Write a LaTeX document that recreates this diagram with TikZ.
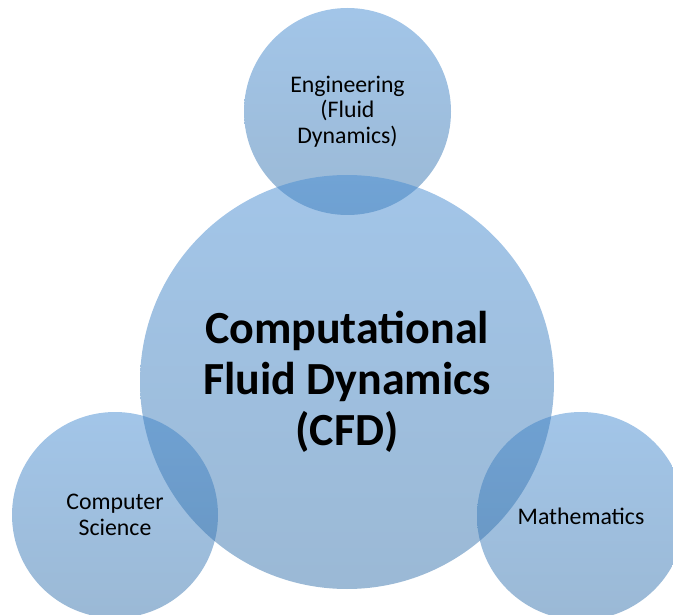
\documentclass[tikz,border=0pt]{standalone}
\usepackage{fontspec}
\setmainfont{Carlito}
\usepackage{tikz}
\usepackage{xcolor}
\usetikzlibrary{shapes.geometric, positioning}
\definecolor{circtop}{RGB}{70,140,210}
\definecolor{circbottom}{RGB}{55,115,172}
\tikzstyle{field} = [circle, top color=circtop, bottom color=circbottom, draw=none, fill opacity=0.5, text opacity=1, align=center, inner sep=0pt]

\begin{document}
\begin{tikzpicture}[x=1pt, y=-1pt]
    \useasboundingbox (0,0) rectangle (673,615);

    % Outer disciplines
    \node[field, minimum size=207pt, font=\fontsize{23.8}{25.5}\selectfont] (eng) at (347.5, 111.5) {Engineering\\(Fluid\\Dynamics)};
    \node[field, minimum size=206pt, font=\fontsize{23.8}{25.5}\selectfont] (cs) at (115, 515) {Computer\\Science};
    \node[field, minimum size=208pt, font=\fontsize{23.8}{25.5}\selectfont] (math) at (581, 516) {Mathematics};

    % Central circle
    \node[field, minimum size=414pt, font=\fontsize{46}{51}\selectfont\bfseries] (cfd) at (347, 382) {Computational\\Fluid Dynamics\\(CFD)};

\end{tikzpicture}
\end{document}
